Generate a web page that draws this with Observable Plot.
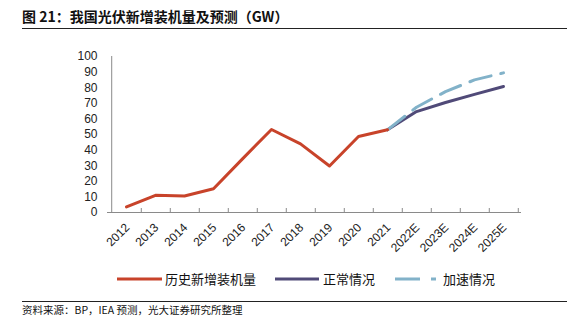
<!DOCTYPE html>
<html>
<head>
<meta charset="utf-8">
<script src="https://cdn.jsdelivr.net/npm/d3@7"></script>
<script src="https://cdn.jsdelivr.net/npm/@observablehq/plot@0.6"></script>
<style>
  html, body { margin: 0; padding: 0; background: #fff; }
  body { width: 585px; height: 327px; position: relative; overflow: hidden;
         font-family: "Noto Sans CJK SC", "Liberation Sans", sans-serif; color: #111; }
  #title { position: absolute; left: 22px; top: 6px; width: 545px; height: 22px;
           font-size: 14px; font-weight: bold; line-height: 20px;
           border-bottom: 1px solid #222; }
  #chart { position: absolute; left: 0; top: 35px; }
  #legend { position: absolute; left: 117px; top: 269px; height: 20px;
            display: flex; align-items: center; font-size: 13px; line-height: 20px; }
  #legend svg { display: block; }
  #source { position: absolute; left: 22px; top: 301px; width: 545px;
            border-top: 1px solid #222; font-size: 10.5px; line-height: 16px; }
</style>
</head>
<body>
<div id="title">图 21：我国光伏新增装机量及预测（GW）</div>
<div id="chart"></div>
<div id="legend"></div>
<div id="source">资料来源：BP，IEA 预测，光大证券研究所整理</div>
<script>
// ---- data ----
const years = ["2012","2013","2014","2015","2016","2017","2018","2019","2020","2021","2022E","2023E","2024E","2025E"];
const histYears = ["2012","2013","2014","2015","2016","2017","2018","2019","2020","2021"];
const histValues = [3.6, 11, 10.6, 15.2, 34.4, 53.2, 44, 29.8, 48.7, 53];
const fcYears = ["2021","2022E","2023E","2024E","2025E"];
const normalValues = [53, 64.7, 70.5, 75.7, 80.8];
const fastValues = [53, 67.5, 77.5, 85, 89.5];
const yTicks = [0,10,20,30,40,50,60,70,80,90,100];
const seriesNames = ["历史新增装机量","正常情况","加速情况"];

const colors = ["#C8432A", "#504A78", "#82B2C9"];
const axisColor = "#8a8a8a";

const hist = histYears.map((y, i) => ({year: y, value: histValues[i]}));
const normal = fcYears.map((y, i) => ({year: y, value: normalValues[i]}));
const fast = fcYears.map((y, i) => ({year: y, value: fastValues[i]}));

const W = 585, H = 230, mL = 107, mR = 64, mT = 21, mB = 53;
const step = (W - mL - mR) / years.length;

const plot = Plot.plot({
  width: W, height: H,
  marginLeft: mL, marginRight: mR, marginTop: mT, marginBottom: mB,
  style: {fontFamily: "'Liberation Sans', Arial, sans-serif", fontSize: "12px", color: "#222", background: "white"},
  x: {type: "point", domain: years, padding: 0.5, axis: null},
  y: {domain: [0, 100], axis: null},
  marks: [
    Plot.axisY(yTicks, {tickSize: 0, tickPadding: 10, fontSize: 12, fill: "#222", label: null}),
    // y axis line and inward ticks
    Plot.ruleX([years[0]], {x: d => d, dx: -step / 2, stroke: axisColor}),
    Plot.ruleY(yTicks, {y: d => d, x1: years[0], x2: years[0], dx: -step / 2, insetRight: -4, stroke: axisColor}),
    // x axis line and ticks at category boundaries
    Plot.ruleY([0], {stroke: axisColor}),
    Plot.ruleX(years, {x: d => d, y1: 0, y2: 0, insetTop: -4, dx: step / 2, stroke: axisColor}),
    // x labels
    Plot.text(years, {x: d => d, y: 0, text: d => d, rotate: -45, textAnchor: "end", lineAnchor: "middle",
                      dy: 13, dx: 1, fontSize: 12, fill: "#222"}),
    // series
    Plot.lineY(normal, {x: "year", y: "value", stroke: colors[1], strokeWidth: 3}),
    Plot.lineY(fast, {x: "year", y: "value", stroke: colors[2], strokeWidth: 3, strokeDasharray: "22,10"}),
    Plot.lineY(hist, {x: "year", y: "value", stroke: colors[0], strokeWidth: 3})
  ]
});
document.getElementById("chart").appendChild(plot);

// legend
const legend = document.getElementById("legend");
const swatches = [
  {w: 45, dash: null, gapBefore: 0, gapText: 3},
  {w: 44, dash: null, gapBefore: 19, gapText: 4},
  {w: 41, dash: "25,11", gapBefore: 20, gapText: 7}
];
seriesNames.forEach((name, i) => {
  const s = swatches[i];
  const item = document.createElement("div");
  item.style.display = "flex";
  item.style.alignItems = "center";
  item.style.marginLeft = s.gapBefore + "px";
  const svg = d3.create("svg").attr("width", s.w).attr("height", 6);
  svg.append("line").attr("x1", 0).attr("x2", s.w).attr("y1", 3).attr("y2", 3)
    .attr("stroke", colors[i]).attr("stroke-width", 3)
    .attr("stroke-dasharray", s.dash);
  item.appendChild(svg.node());
  const t = document.createElement("span");
  t.textContent = name;
  t.style.marginLeft = s.gapText + "px";
  item.appendChild(t);
  legend.appendChild(item);
});
</script>
</body>
</html>
